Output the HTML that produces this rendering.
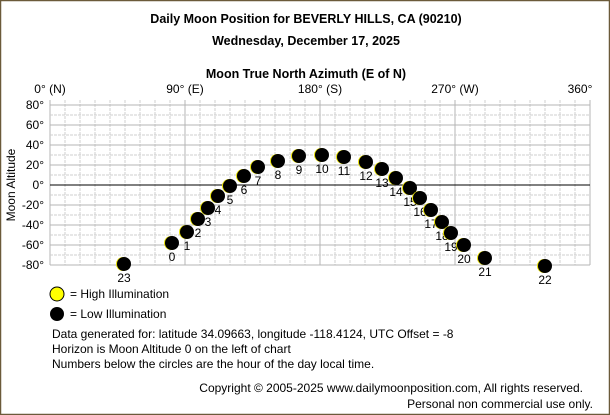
<!DOCTYPE html>
<html><head><meta charset="utf-8"><style>
html,body{margin:0;padding:0;background:#fff}
svg{display:block;font-family:"Liberation Sans",sans-serif}
</style></head><body>
<svg id="s" width="610" height="415" viewBox="0 0 610 415" xmlns="http://www.w3.org/2000/svg">
<rect x="0.5" y="0.5" width="609" height="414" fill="#fff" stroke="#6b5a3a" stroke-width="1.5"/>
<g font-weight="bold" font-size="12.5" text-anchor="middle" fill="#000">
<text x="306" y="23">Daily Moon Position for BEVERLY HILLS, CA (90210)</text>
<text x="306" y="45">Wednesday, December 17, 2025</text>
<text x="306" y="78">Moon True North Azimuth (E of N)</text>
</g>
<g id="grid"></g>
<g font-size="12" fill="#000">
<text x="50" y="93" text-anchor="middle">0° (N)</text>
<text x="185" y="93" text-anchor="middle">90° (E)</text>
<text x="320" y="93" text-anchor="middle">180° (S)</text>
<text x="455" y="93" text-anchor="middle">270° (W)</text>
<text x="580" y="93" text-anchor="middle">360°</text>
<text transform="translate(15,185) rotate(-90)" text-anchor="middle">Moon Altitude</text>
</g>
<g id="ylab" font-size="12" text-anchor="end" fill="#000"></g>
<g id="pts"></g>
<g font-size="12" fill="#000">
<circle cx="57" cy="294" r="7" fill="#ffff00" stroke="#000" stroke-width="1"/>
<text x="70" y="298">= High Illumination</text>
<circle cx="57" cy="314" r="7" fill="#000"/>
<text x="70" y="318">= Low Illumination</text>
<text x="52" y="338">Data generated for: latitude 34.09663, longitude -118.4124, UTC Offset = -8</text>
<text x="52" y="353">Horizon is Moon Altitude 0 on the left of chart</text>
<text x="52" y="368">Numbers below the circles are the hour of the day local time.</text>
<text x="583" y="392" text-anchor="end">Copyright © 2005-2025 www.dailymoonposition.com, All rights reserved.</text>
<text x="593" y="408" text-anchor="end">Personal non commercial use only.</text>
</g>
</svg>
<script>
var NS="http://www.w3.org/2000/svg";
function el(p,t,a,txt){var e=document.createElementNS(NS,t);for(var k in a)e.setAttribute(k,a[k]);if(txt!=null)e.textContent=txt;p.appendChild(e);return e;}
var g=document.getElementById("grid");
for(var i=0;i<=36;i++){var x=50+i*15;var major=(i%9==0);
el(g,"line",{x1:x,y1:100,x2:x,y2:265,stroke:major?"#b4b4b4":"#cfcfcf","stroke-width":1,"stroke-dasharray":major?"":"3,1"});}
for(var a=-80;a<=80;a+=10){var y=185-a;var major=(a%20==0);
if(a==0)continue;
el(g,"line",{x1:50,y1:y,x2:590,y2:y,stroke:major?"#b4b4b4":"#cfcfcf","stroke-width":1,"stroke-dasharray":major?"":"3,1"});}
el(g,"line",{x1:50,y1:185,x2:590,y2:185,stroke:"#000","stroke-width":1});
var yl=document.getElementById("ylab");
for(var a=-80;a<=80;a+=20){el(yl,"text",{x:44,y:185-a+4},a+"°");}
var P=[[0,172,243],[1,187,232],[2,198,219],[3,208,208],[4,218,196],[5,230,186],[6,244,176],[7,258,167],[8,278,161],[9,299,156],[10,322,155],[11,344,157],[12,366,162],[13,382,169],[14,396,178],[15,410,188],[16,420,198],[17,431,210],[18,442,222],[19,451,233],[20,464,245],[21,485,258],[22,545,266],[23,124,264]];
var pg=document.getElementById("pts");
P.forEach(function(p){
el(pg,"circle",{cx:p[1]-1,cy:p[2],r:7,fill:"#e8e000"});
el(pg,"circle",{cx:p[1],cy:p[2],r:7,fill:"#000"});
el(pg,"text",{x:p[1],y:p[2]+18,"font-size":12,"text-anchor":"middle",fill:"#000"},String(p[0]));
});
</script>
</body></html>
